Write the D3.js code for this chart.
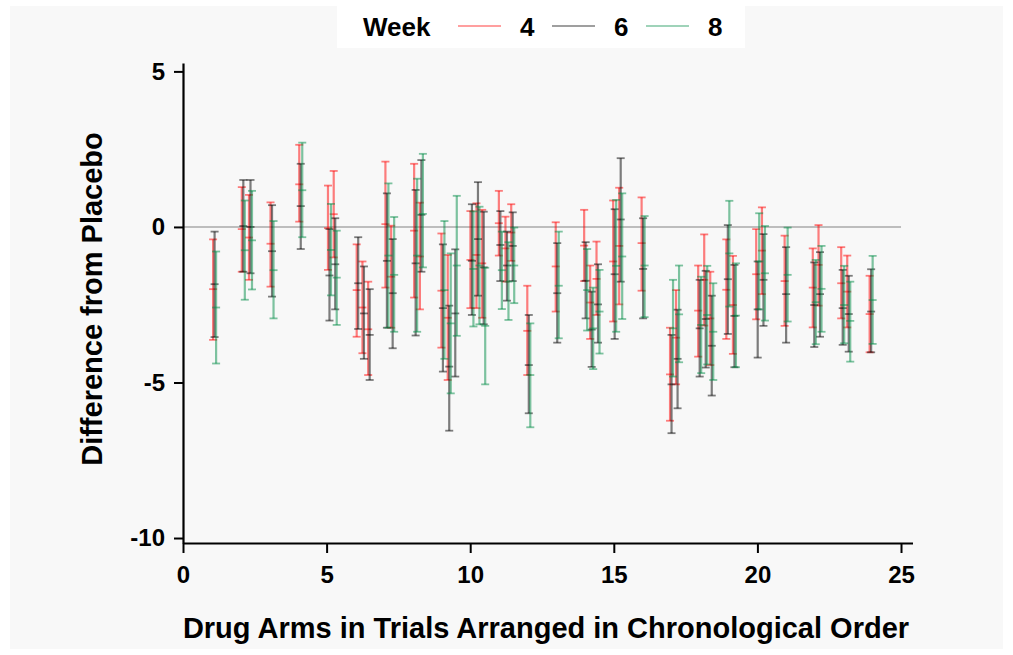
<!DOCTYPE html>
<html>
<head>
<meta charset="utf-8">
<script src="https://cdn.jsdelivr.net/npm/d3@7"></script>
<style>
  body { margin: 0; background: #fff; }
  text { font-family: "Liberation Sans", Arial, sans-serif; font-weight: bold; fill: #000; }
</style>
</head>
<body>
<svg width="1013" height="655"></svg>
<script>
// arm positions along x (trial index + arm offset)
var armPos = [1.1, 2.1, 2.35, 3.1, 4.1, 5.1, 5.3, 6.1, 6.3, 6.5, 7.1, 7.3, 8.1, 8.3, 9.05, 9.27, 9.48,
  10.06, 10.27, 10.47, 11.05, 11.28, 11.48, 12.04, 13.03, 14.02, 14.23, 14.45, 15.03, 15.24, 16.02,
  17.01, 17.22, 17.99, 18.2, 18.41, 18.97, 19.2, 20.01, 20.21, 21.0, 21.98, 22.18, 22.97, 23.18, 23.96];

// week 4
var hi4 = [-0.40, 1.28, 1.03, 0.79, 2.64, 1.33, 1.80, -0.56, -1.11, -1.76, 2.10, 0.04, 2.03, 0.78, -0.21, -0.90, null,
  0.51, 0.76, 0.55, 1.16, 0.33, 0.73, -1.89, 0.15, 0.55, -1.24, -0.47, 0.85, 1.26, 0.95,
  -3.24, -2.03, -1.24, -0.24, -1.44, -0.40, -0.93, -0.07, 0.63, -0.28, -0.69, 0.06, -0.65, -0.92, -1.57];
var mean4 = [-2.00, -0.07, -0.34, -0.54, 1.37, -0.04, 0.41, -2.03, -2.59, -3.29, 0.09, -1.60, -0.12, -0.95, -2.05, -2.92, null,
  -1.06, -0.90, -1.17, 0.12, -0.69, -0.18, -3.34, -1.27, -0.60, -2.43, -1.67, -1.11, -0.61, -0.52,
  -4.74, -3.56, -2.69, -1.70, -2.94, -2.02, -2.51, -1.52, -0.76, -1.74, -1.95, -1.22, -1.81, -2.08, -2.80];
var lo4 = [-3.63, -1.44, -1.70, -1.92, 0.17, -1.38, -0.98, -3.53, -4.06, -4.76, -1.95, -3.24, -2.27, -2.65, -3.88, -4.92, null,
  -2.61, -2.61, -2.92, -0.92, -1.76, -1.09, -4.76, -2.72, -1.74, -3.60, -2.83, -3.04, -2.49, -2.05,
  -6.23, -5.06, -4.17, -3.17, -4.44, -3.60, -4.08, -2.97, -2.16, -3.18, -3.23, -2.53, -2.94, -3.23, -4.03];

// week 6
var hi6 = [-0.15, 1.51, 1.51, 0.70, 2.03, -0.07, 0.28, -0.33, -1.27, -2.00, 1.08, -0.39, 1.19, 2.15, -0.56, -2.53, -0.72,
  0.73, 1.44, 0.49, 0.51, -0.15, 0.47, -2.83, -0.52, -0.49, -2.08, -1.20, 0.57, 2.21, 0.28,
  -3.47, -2.66, -1.70, -1.41, -2.21, 0.06, -1.22, -1.11, -0.23, -0.65, -1.14, -0.81, -1.38, -1.57, -1.36];
var mean6 = [-1.84, 0.03, 0.00, -0.78, 0.67, -1.56, -1.20, -1.81, -2.78, -3.47, -1.09, -2.13, -1.17, 0.39, -2.61, -4.49, -2.78,
  -1.09, -0.39, -1.30, -0.58, -1.24, -0.61, -4.44, -2.13, -1.73, -3.30, -2.49, -1.52, 0.24, -1.35,
  -5.06, -4.24, -3.26, -2.96, -3.82, -1.68, -2.86, -2.65, -1.70, -2.16, -2.51, -2.16, -2.61, -2.80, -2.72];
var lo6 = [-3.54, -1.44, -1.49, -2.24, -0.71, -3.01, -2.65, -3.28, -4.24, -4.92, -3.24, -3.90, -3.49, -1.44, -4.65, -6.55, -4.81,
  -2.83, -2.21, -3.13, -1.74, -2.37, -1.74, -5.99, -3.72, -2.94, -4.50, -3.72, -3.60, -1.76, -2.94,
  -6.63, -5.83, -4.81, -4.52, -5.42, -3.44, -4.51, -4.20, -3.18, -3.72, -3.86, -3.53, -3.79, -4.01, -4.03];

// week 8
var hi8 = [-0.79, 0.85, 1.16, 0.19, 2.71, 0.74, -0.12, null, null, null, 1.40, 0.32, 1.55, 2.35, 0.19, -0.85, 1.00,
  0.50, 0.65, -1.31, -0.15, -0.49, -0.02, -3.10, -0.15, -0.71, -1.95, -1.38, 0.87, 1.08, 0.35,
  -1.70, -1.24, -1.60, -1.25, -1.81, 0.84, -1.17, 0.44, 0.03, -0.02, -1.06, -0.61, -1.25, -1.76, -0.93];
var mean8 = [-2.59, -0.75, -0.43, -1.39, 1.18, -0.74, -1.63, null, null, null, -0.92, -1.54, -0.92, 0.42, -2.03, -3.10, -1.24,
  -1.35, -1.24, -3.18, -1.39, -1.76, -1.24, -4.76, -1.89, -2.03, -3.26, -2.72, -1.25, -0.95, -1.24,
  -3.26, -2.81, -3.15, -2.83, -3.37, -0.85, -2.85, -1.11, -1.49, -1.54, -2.42, -1.99, -2.51, -3.02, -2.35];
var lo8 = [-4.39, -2.34, -2.01, -2.94, -0.33, -2.20, -3.15, null, null, null, -3.24, -3.37, -3.37, -1.30, -4.24, -5.35, -3.50,
  -3.20, -3.13, -5.06, -2.64, -2.99, -2.45, -6.44, -3.58, -3.33, -4.57, -4.07, -3.37, -2.96, -2.90,
  -4.81, -4.35, -4.70, -4.42, -4.92, -2.56, -4.51, -2.65, -3.01, -3.04, -3.77, -3.37, -3.74, -4.33, -3.76];

var weeks = ["4", "6", "8"];
var weekColor = ["rgba(255,0,0,0.5)", "rgba(0,0,0,0.5)", "rgba(0,140,70,0.5)"];
var xTicks = [0, 5, 10, 15, 20, 25];
var yTicks = [5, 0, -5, -10];

var svg = d3.select("svg");

svg.append("rect").attr("x", 10).attr("y", 6).attr("width", 993).attr("height", 643).attr("fill", "#f8f8f8");

var x = d3.scaleLinear().domain([0, 25.4]).range([183, 912.5]);
var y = d3.scaleLinear().domain([-10.16, 5.27]).range([543, 63]);

// reference line at zero
svg.append("line")
    .attr("x1", x(0)).attr("x2", x(25))
    .attr("y1", y(0)).attr("y2", y(0))
    .attr("stroke", "#bdbdbd").attr("stroke-width", 2);

// axes
var fmt = function(d) { return String(d); };
var gy = svg.append("g")
    .attr("transform", "translate(" + x(0) + ",0)")
    .call(d3.axisLeft(y).tickValues(yTicks).tickFormat(fmt).tickSize(9).tickSizeOuter(0).tickPadding(9));
var gx = svg.append("g")
    .attr("transform", "translate(0," + y.range()[0] + ")")
    .call(d3.axisBottom(x).tickValues(xTicks).tickFormat(fmt).tickSize(10).tickSizeOuter(0).tickPadding(13));
[gx, gy].forEach(function(g) {
  g.select(".domain").attr("stroke-width", 2.2);
  g.selectAll(".tick line").attr("stroke-width", 2);
  g.selectAll("text").style("font-size", "24px").style("font-family", "'Liberation Sans', Arial, sans-serif").style("font-weight", "bold");
});

// error bars
var series = [[hi4, mean4, lo4], [hi6, mean6, lo6], [hi8, mean8, lo8]];
var shift = [-1.5, 0, 1.5];
var cap = 4;

series.forEach(function(s, wi) {
  var rows = armPos.map(function(p, i) { return {x: p, hi: s[0][i], m: s[1][i], lo: s[2][i]}; })
    .filter(function(d) { return d.m != null; });
  var g = svg.append("g").attr("transform", "translate(" + shift[wi] + ",0)")
    .attr("stroke", weekColor[wi]);
  var bar = g.selectAll("g.bar").data(rows).enter().append("g").attr("class", "bar");
  bar.append("line")
      .attr("x1", function(d) { return x(d.x); }).attr("x2", function(d) { return x(d.x); })
      .attr("y1", function(d) { return y(d.hi); }).attr("y2", function(d) { return y(d.lo); })
      .attr("stroke-width", 2.2);
  ["hi", "m", "lo"].forEach(function(k) {
    bar.append("line")
        .attr("x1", function(d) { return x(d.x) - cap; }).attr("x2", function(d) { return x(d.x) + cap; })
        .attr("y1", function(d) { return y(d[k]); }).attr("y2", function(d) { return y(d[k]); })
        .attr("stroke-width", 1.8);
  });
});

// axis titles
svg.append("text")
    .attr("x", 546).attr("y", 638)
    .attr("text-anchor", "middle")
    .style("font-size", "29px")
    .text("Drug Arms in Trials Arranged in Chronological Order");
svg.append("text")
    .attr("transform", "translate(102,299) rotate(-90)")
    .attr("text-anchor", "middle")
    .style("font-size", "29px")
    .text("Difference from Placebo");

// legend
var lg = svg.append("g");
lg.append("rect").attr("x", 337).attr("y", 5).attr("width", 408).attr("height", 43).attr("fill", "#fff");
lg.append("text").attr("x", 363).attr("y", 36).style("font-size", "26px").text("Week");
var legX = [458, 552, 646];
weeks.forEach(function(w, i) {
  lg.append("line")
      .attr("x1", legX[i]).attr("x2", legX[i] + 43)
      .attr("y1", 26).attr("y2", 26)
      .attr("stroke", weekColor[i]).attr("stroke-width", 1.5);
  lg.append("text").attr("x", legX[i] + 62).attr("y", 36).style("font-size", "26px").text(w);
});
</script>
</body>
</html>
